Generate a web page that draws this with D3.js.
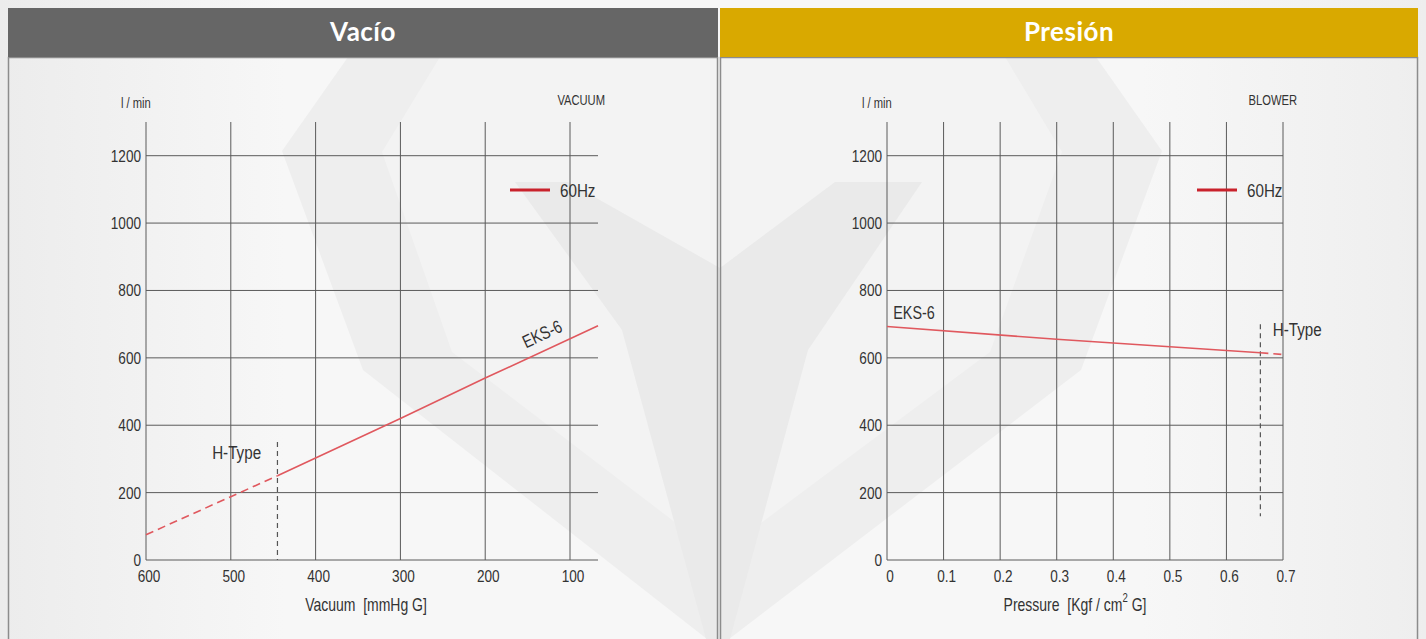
<!DOCTYPE html>
<html>
<head>
<meta charset="utf-8">
<script src="https://cdn.jsdelivr.net/npm/d3@7"></script>
<style>
  html, body { margin: 0; padding: 0; background: #f4f4f4; }
  svg { display: block; }
  .lbl { font-family: "Liberation Sans Narrow", "Liberation Sans", Arial, sans-serif; fill: #333; }
</style>
</head>
<body>
<svg id="chart" width="1426" height="639"></svg>
<script>
// ---- data ----
var panelTitles = ["Vacío", "Presión"];
var yTicks = [0, 200, 400, 600, 800, 1000, 1200];

var vacuumTicks = [600, 500, 400, 300, 200, 100];
// EKS-6 @60Hz, vacuum side: [mmHg, l/min]
var vacuumDashed = [[600, 75], [445, 250]];
var vacuumSolid = [[445, 250], [300, 420], [200, 540], [67, 695]];
var vacuumHType = 445;

var pressureTicks = [0, 0.1, 0.2, 0.3, 0.4, 0.5, 0.6, 0.7];
// EKS-6 @60Hz, blower side: [Kgf/cm2, l/min]
var pressureSolid = [[0, 693], [0.3, 655], [0.66, 615]];
var pressureDashed = [[0.66, 615], [0.7, 610]];
var pressureHType = 0.66;

var svg = d3.select("#chart");
var RED = "#e0585e";
var GRID = "#5a5a5a";
var NARROW = 0.8;   // condensed look, the narrow face is not installed

// narrow text helper: anchor handled via text-anchor, squeeze via scale
function ntext(g, x, y, size, str, anchor, rot) {
  var tr = "translate(" + x + "," + y + ")" + (rot ? " rotate(" + rot + ")" : "") + " scale(" + NARROW + ",1)";
  return g.append("text").attr("class", "lbl")
    .attr("transform", tr)
    .attr("text-anchor", anchor || "start")
    .attr("font-size", size)
    .text(str);
}

// ---- background & watermark ----
var defs = svg.append("defs");
var bg = defs.append("linearGradient").attr("id", "bg").attr("x1", 0).attr("x2", 1).attr("y1", 0).attr("y2", 0);
bg.append("stop").attr("offset", "0%").attr("stop-color", "#ececec");
bg.append("stop").attr("offset", "20%").attr("stop-color", "#f7f7f7");
bg.append("stop").attr("offset", "80%").attr("stop-color", "#f7f7f7");
bg.append("stop").attr("offset", "100%").attr("stop-color", "#eeeeee");
svg.append("rect").attr("width", 1426).attr("height", 639).attr("fill", "url(#bg)");

var line = d3.line();
svg.append("path")
  .attr("d", line([[348, 57], [1096, 57], [1162, 151], [1081, 370], [729, 639], [707, 639], [363, 370], [282, 151]]) + "Z")
  .attr("fill", "#eeeeee");
svg.append("path")
  .attr("d", line([[440, 57], [1005, 57], [1062, 152], [990, 352], [718, 555], [452, 352], [382, 152]]) + "Z")
  .attr("fill", "#f3f3f3");
svg.append("path")
  .attr("d", line([[515, 182], [568, 182], [720, 268], [835, 182], [922, 182], [808, 350], [730, 639], [706, 639], [622, 330]]) + "Z")
  .attr("fill", "#eaeaea");

// ---- panels ----
var panels = [{x: 8, w: 710, fill: "#666666"}, {x: 720, w: 698, fill: "#d9a900"}];
panels.forEach(function(p, i) {
  svg.append("rect").attr("x", p.x + 0.5).attr("y", 57.5).attr("width", p.w - 1).attr("height", 600)
    .attr("fill", "none").attr("stroke", "#8c8c8c").attr("stroke-width", 1.5);
  svg.append("rect").attr("x", p.x).attr("y", 8).attr("width", p.w).attr("height", 49).attr("fill", p.fill);
  svg.append("text").attr("x", p.x + p.w / 2).attr("y", 41)
    .attr("text-anchor", "middle").attr("fill", "#fff")
    .attr("font-family", "Lato, 'Open Sans', sans-serif").attr("font-weight", 700).attr("font-size", 26)
    .attr("letter-spacing", 0.5)
    .text(panelTitles[i]);
});

var y = d3.scaleLinear().domain([0, 1300]).range([560, 122]);

function drawChart(opt) {
  var x = opt.x;
  var g = svg.append("g");
  var x0 = x.range()[0], x1 = x.range()[1];

  // horizontal grid
  g.selectAll(".hg").data(yTicks).enter().append("line")
    .attr("x1", x0).attr("x2", x1)
    .attr("y1", function(d) { return y(d); }).attr("y2", function(d) { return y(d); })
    .attr("stroke", GRID).attr("stroke-width", 1);
  // vertical grid
  g.selectAll(".vg").data(opt.ticks).enter().append("line")
    .attr("x1", function(d) { return x(d); }).attr("x2", function(d) { return x(d); })
    .attr("y1", y(1300)).attr("y2", y(0))
    .attr("stroke", GRID).attr("stroke-width", 1);

  yTicks.forEach(function(d) { ntext(g, x0 - 5, y(d) + 6, 17, d, "end"); });
  opt.ticks.forEach(function(d) { ntext(g, x(d) + 3, 582, 17, opt.fmt(d), "middle"); });

  ntext(g, x0 - 25, 108, 14, "l / min");
  ntext(g, opt.cornerX, 105, 14, opt.corner, "end");

  // legend
  g.append("line").attr("x1", opt.legX).attr("x2", opt.legX + 40).attr("y1", 190).attr("y2", 190)
    .attr("stroke", "#c9222c").attr("stroke-width", 3);
  ntext(g, opt.legX + 50, 197, 19, "60Hz");

  // H-Type marker
  g.append("line").attr("x1", x(opt.hType)).attr("x2", x(opt.hType))
    .attr("y1", y(opt.hRange[1])).attr("y2", y(opt.hRange[0]))
    .attr("stroke", "#555").attr("stroke-width", 1.2).attr("stroke-dasharray", "5,4");
  ntext(g, x(opt.hLabel[0]), y(opt.hLabel[1]), 19, "H-Type");

  // curve
  var cl = d3.line().x(function(d) { return x(d[0]); }).y(function(d) { return y(d[1]); });
  g.append("path").attr("d", cl(opt.solid)).attr("fill", "none")
    .attr("stroke", RED).attr("stroke-width", 1.6);
  g.append("path").attr("d", cl(opt.dashed)).attr("fill", "none")
    .attr("stroke", RED).attr("stroke-width", 1.6).attr("stroke-dasharray", "8,5");

  // model label
  ntext(g, x(opt.mLabel[0]), y(opt.mLabel[1]), 18, "EKS-6", "start", opt.mLabel[2]);

  // axis title
  var t = ntext(g, opt.titleX, 611, 17.5, "", "middle");
  opt.title(t);
}

drawChart({
  x: d3.scaleLinear().domain([600, 67]).range([146, 598]),
  ticks: vacuumTicks,
  fmt: function(d) { return d; },
  corner: "VACUUM", cornerX: 605,
  legX: 510,
  hType: vacuumHType, hRange: [0, 350], hLabel: [522, 299],
  solid: vacuumSolid, dashed: vacuumDashed,
  mLabel: [152, 628, -25],
  titleX: 366,
  title: function(t) { t.text("Vacuum\u00a0\u00a0[mmHg G]"); }
});

drawChart({
  x: d3.scaleLinear().domain([0, 0.7]).range([887, 1283]),
  ticks: pressureTicks,
  fmt: function(d) { return d; },
  corner: "BLOWER", cornerX: 1297,
  legX: 1197,
  hType: pressureHType, hRange: [130, 700], hLabel: [0.682, 665],
  solid: pressureSolid, dashed: pressureDashed,
  mLabel: [0.011, 715, 0],
  titleX: 1075,
  title: function(t) {
    t.append("tspan").text("Pressure\u00a0\u00a0[Kgf / cm");
    t.append("tspan").attr("dy", -9).attr("font-size", 12).text("2");
    t.append("tspan").attr("dy", 9).text("\u00a0G]");
  }
});
</script>
</body>
</html>
